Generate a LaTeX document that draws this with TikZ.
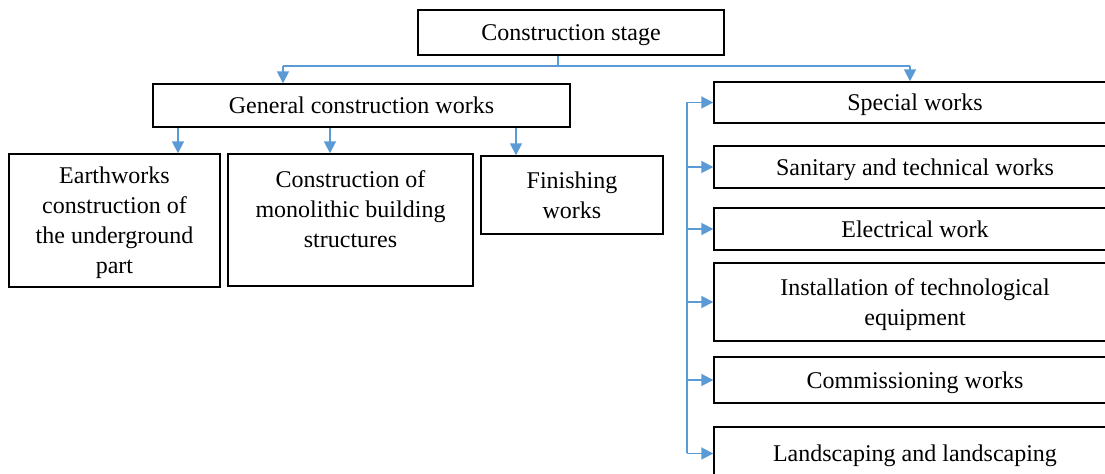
\documentclass[tikz,border=0pt]{standalone}
\usepackage{fontspec}
\setmainfont{Liberation Serif}
\usetikzlibrary{arrows.meta}
\definecolor{lineblue}{RGB}{91,155,213}

\begin{document}
\begin{tikzpicture}[x=0.5pt, y=-0.5pt,
        box/.style={draw, line width=0.7pt, align=center, inner sep=0pt, text depth=0pt,
                    font=\fontsize{12pt}{15pt}\selectfont},
        wire/.style={draw=lineblue, line width=0.9pt},
        link/.style={wire, -{Triangle[length=6pt, width=6pt]}}]
            \useasboundingbox (0,0) rectangle (1105,474);
            \clip (0,0) rectangle (1105,474);

            \node[box, minimum width=153pt, minimum height=22.5pt] (stage) at (571,32.5) {Construction stage};
            \node[box, minimum width=208.5pt, minimum height=21.5pt] (general) at (361.5,105.5) {General construction works};

            \node[box, minimum width=105.5pt, minimum height=66.5pt] (earth) at (114.5,220.5)
                {Earthworks\\ construction of\\ the underground\\ part};
            \node[box, minimum width=122.5pt, minimum height=66pt] (mono) at (350.5,220)
                {Construction of\\ monolithic building\\ structures\\[-4pt] \mbox{}};
            \node[box, minimum width=91pt, minimum height=39pt] (finish) at (572,195)
                {Finishing\\ works};

            \foreach \nm/\yc/\bh/\txt in {
                    special/102.5/20.5/{Special works},
                    sanitary/167/21/{Sanitary and technical works},
                    electric/229/21/{Electrical work},
                    install/302/39/{Installation of technological\\ equipment},
                    commission/380/23/{Commissioning works},
                    landscape/453.5/26.5/{Landscaping and landscaping}}{
                \node[box, minimum width=201pt, minimum height=\bh pt] (\nm) at (915,\yc) {\txt};
            }

            % top level
            \coordinate (bus) at (558,66);
            \draw[wire] (bus |- stage.south) -- (bus);
            \draw[wire] (283,0 |- bus) -- (910,0 |- bus);
            \draw[link] (283,0 |- bus) -- (283,0 |- general.north);
            \draw[link] (910,0 |- bus) -- (910,0 |- special.north);

            % general construction works
            \draw[link] (178,0 |- general.south) -- (178,0 |- earth.north);
            \draw[link] (330,0 |- general.south) -- (330,0 |- mono.north);
            \draw[link] (516,0 |- general.south) -- (516,0 |- finish.north);

            % special works
            \coordinate (spine) at (687,0);
            \draw[wire] (spine |- special.west) -- (spine |- landscape.west);
            \foreach \nm in {special,sanitary,electric,install,commission,landscape}{
                \draw[link] (spine |- \nm.west) -- (\nm.west);
            }
        \end{tikzpicture}
\end{document}
